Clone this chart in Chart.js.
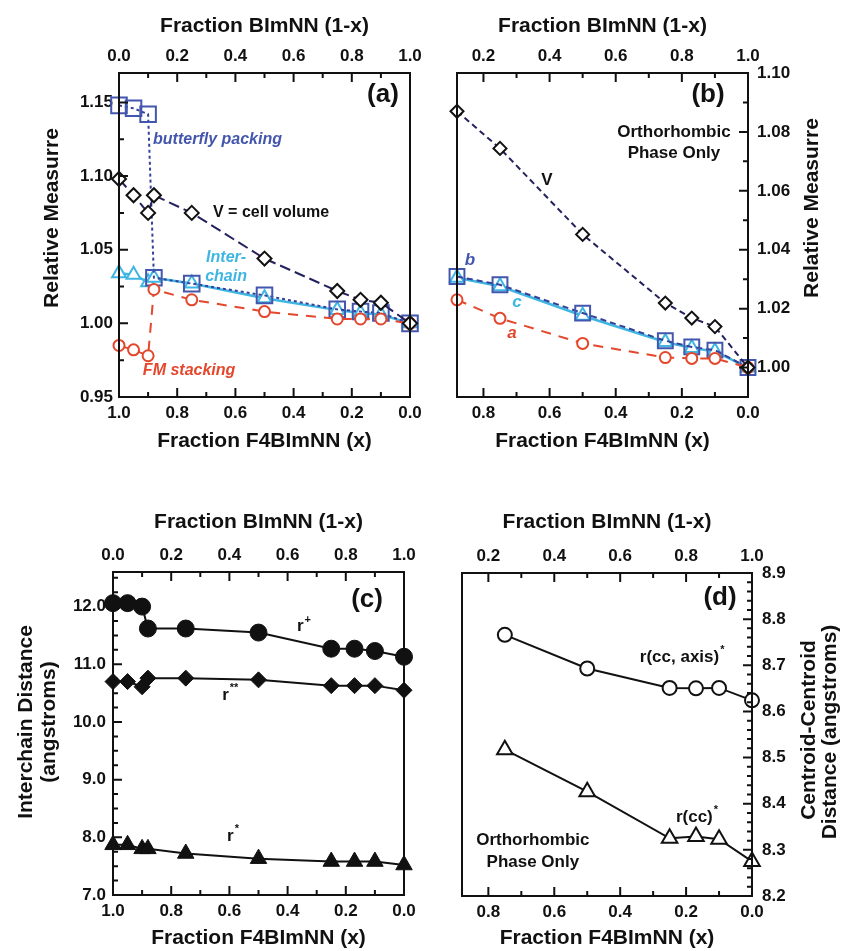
<!DOCTYPE html>
<html>
<head>
<meta charset="utf-8">
<title>BImNN / F4BImNN lattice parameters</title>
<script src="https://cdn.jsdelivr.net/npm/chart.js@4.4.6/dist/chart.umd.min.js"></script>
<style>
  html, body { margin: 0; background: #fff; }
  #fig { position: relative; width: 843px; height: 951px; overflow: hidden; }
  #fig canvas { position: absolute; }
</style>
</head>
<body>
<div id="fig">
  <canvas id="chart-a" width="430" height="460" style="left:0;top:0"></canvas>
  <canvas id="chart-b" width="423" height="460" style="left:420px;top:0"></canvas>
  <canvas id="chart-c" width="430" height="491" style="left:0;top:460px"></canvas>
  <canvas id="chart-d" width="423" height="491" style="left:420px;top:460px"></canvas>
</div>
<script>
// ---- compositions: fraction F4BImNN (x); top axes show 1-x ----
const X_ALL   = [1.0, 0.95, 0.9, 0.88, 0.75, 0.5, 0.25, 0.17, 0.1, 0.0];
const X_ORTHO = [0.88, 0.75, 0.5, 0.25, 0.17, 0.1, 0.0];
const X_CC    = [0.75, 0.5, 0.25, 0.17, 0.1, 0.0];

// (a) relative measures, all phases
const volA        = [1.098, 1.087, 1.075, 1.087, 1.075, 1.044, 1.022, 1.016, 1.014, 1.000];
const butterflyA  = [1.148, 1.146, 1.142, 1.031, 1.027, 1.019, 1.0095, 1.008, 1.007, 1.000];
const interchainA = [1.034, 1.033, 1.028, 1.031, 1.027, 1.017, 1.009, 1.007, 1.006, 1.000];
const fmStackA    = [0.985, 0.982, 0.978, 1.023, 1.016, 1.008, 1.003, 1.003, 1.003, 1.000];

// (b) relative measures, orthorhombic phase only
const volB = [1.087, 1.0744, 1.0452, 1.0219, 1.0168, 1.0139, 1.000];
const bB   = [1.0309, 1.0281, 1.0185, 1.0091, 1.0070, 1.0059, 1.000];
const cB   = [1.0305, 1.0276, 1.0176, 1.0087, 1.0066, 1.0055, 1.000];
const aB   = [1.023, 1.0167, 1.0082, 1.0034, 1.0031, 1.0031, 1.000];

// (c) interchain distances (angstroms)
const rPlus   = [12.06, 12.06, 12.0, 11.62, 11.62, 11.55, 11.27, 11.27, 11.23, 11.13];
const rDouble = [10.70, 10.70, 10.61, 10.76, 10.76, 10.73, 10.63, 10.63, 10.63, 10.55];
const rStar   = [7.87, 7.87, 7.80, 7.80, 7.72, 7.63, 7.58, 7.58, 7.58, 7.52];

// (d) centroid-centroid distances (angstroms)
const rccAxis = [8.766, 8.693, 8.651, 8.650, 8.651, 8.624];
const rcc     = [8.517, 8.426, 8.325, 8.329, 8.323, 8.275];

// tick labels
const TOP_ALL      = [0, 0.2, 0.4, 0.6, 0.8, 1.0];
const BOTTOM_ALL   = [1.0, 0.8, 0.6, 0.4, 0.2, 0.0];
const TOP_ORTHO    = [0.2, 0.4, 0.6, 0.8, 1.0];
const BOTTOM_ORTHO = [0.8, 0.6, 0.4, 0.2, 0.0];
const Y_A = [0.95, 1.00, 1.05, 1.10, 1.15];
const Y_B = [1.00, 1.02, 1.04, 1.06, 1.08, 1.10];
const Y_C = [7, 8, 9, 10, 11, 12];
const Y_D = [8.2, 8.3, 8.4, 8.5, 8.6, 8.7, 8.8, 8.9];

// ---- style ----
const FAMILY = "'Liberation Sans', Arial, Helvetica, sans-serif";
const INK = "#111";
const NAVY = "#23225e";
const BLUE = "#4356ad";
const BLUE_LINE = "#34409a";
const CYAN = "#3fb6e2";
const RED = "#e4472c";
const TICK_FONT = { family: FAMILY, size: 17, weight: "bold" };
const TITLE_FONT = { family: FAMILY, size: 21, weight: "bold" };

Chart.defaults.font.family = FAMILY;

const pts = (xs, ys) => xs.map((x, i) => ({ x, y: ys[i] }));

function series(xs, ys, o) {
  return {
    data: pts(xs, ys),
    showLine: true,
    clip: false,
    borderWidth: 2,
    pointBorderWidth: 2,
    pointBackgroundColor: "#fff",
    ...o,
  };
}

// fixed box sizes so the four frames line up
const fixSize = size => s => {
  if (s.isHorizontal()) s.height = size; else s.width = size;
  s.paddingLeft = s.paddingRight = s.paddingTop = s.paddingBottom = 0;
};

function hAxis({ pos, min, max, reverse, ticks, size, title, titlePad }) {
  return {
    type: "linear", position: pos, min, max, reverse: !!reverse,
    afterBuildTicks: s => { s.ticks = ticks.map(value => ({ value })); },
    afterFit: fixSize(size),
    grid: { display: false, drawTicks: false },
    border: { display: false },
    ticks: { padding: 6, color: INK, font: TICK_FONT, autoSkip: false, maxRotation: 0, callback: v => v.toFixed(1) },
    title: {
      display: true, text: title, color: INK, font: TITLE_FONT,
      padding: pos === "top" ? { top: titlePad, bottom: 0 } : { top: 0, bottom: titlePad },
    },
  };
}

function vAxis({ pos, min, max, ticks, size, digits, pad }) {
  return {
    type: "linear", position: pos, min, max,
    afterBuildTicks: s => { s.ticks = ticks.map(value => ({ value })); },
    afterFit: fixSize(size),
    grid: { display: false, drawTicks: false },
    border: { display: false },
    ticks: { padding: pad, color: INK, font: TICK_FONT, autoSkip: false, callback: v => v.toFixed(digits) },
  };
}

// frame, inward tick marks and text labels
function drawTicks(chart, side) {
  const { ctx, chartArea: a } = chart;
  const sc = chart.scales[side.scale];
  const lo = Math.min(sc.min, sc.max), hi = Math.max(sc.min, sc.max);
  const n0 = Math.ceil(lo / side.minor - 1e-6), n1 = Math.floor(hi / side.minor + 1e-6);
  ctx.beginPath();
  for (let n = n0; n <= n1; n++) {
    const v = n * side.minor;
    const r = v / side.major;
    const len = Math.abs(r - Math.round(r)) < 1e-6 ? 9 : 5;
    const p = sc.getPixelForValue(v);
    if (side.edge === "top") { ctx.moveTo(p, a.top); ctx.lineTo(p, a.top + len); }
    if (side.edge === "bottom") { ctx.moveTo(p, a.bottom); ctx.lineTo(p, a.bottom - len); }
    if (side.edge === "left") { ctx.moveTo(a.left, p); ctx.lineTo(a.left + len, p); }
    if (side.edge === "right") { ctx.moveTo(a.right, p); ctx.lineTo(a.right - len, p); }
  }
  ctx.stroke();
}

function drawNote(chart, n) {
  const { ctx } = chart;
  const px = n.px ?? chart.scales.x.getPixelForValue(n.x);
  const py = n.py ?? chart.scales.y.getPixelForValue(n.y);
  const size = n.size || 17;
  const main = `${n.italic ? "italic " : ""}bold ${size}px ${FAMILY}`;
  const supFont = `bold ${Math.round(size * 0.65)}px ${FAMILY}`;
  ctx.save();
  ctx.translate(px, py);
  if (n.rotate) ctx.rotate(n.rotate * Math.PI / 180);
  ctx.fillStyle = n.color || INK;
  ctx.textBaseline = "middle";
  ctx.textAlign = "left";
  ctx.font = main;
  const w = ctx.measureText(n.text).width;
  let sw = 0;
  if (n.sup) { ctx.font = supFont; sw = ctx.measureText(n.sup).width + 1; }
  const total = w + sw;
  const x0 = n.align === "left" ? 0 : n.align === "right" ? -total : -total / 2;
  ctx.font = main;
  ctx.fillText(n.text, x0, 0);
  if (n.sup) { ctx.font = supFont; ctx.fillText(n.sup, x0 + w + 1, -size * 0.42); }
  ctx.restore();
}

const decor = {
  id: "decor",
  afterDatasetsDraw(chart, _args, opts) {
    const { ctx, chartArea: a } = chart;
    ctx.save();
    ctx.strokeStyle = INK;
    ctx.lineWidth = 2;
    ctx.strokeRect(a.left, a.top, a.right - a.left, a.bottom - a.top);
    for (const s of opts.sides || []) drawTicks(chart, s);
    for (const n of opts.notes || []) drawNote(chart, n);
    ctx.restore();
  },
};

function panel(id, datasets, scales, padding, decorOpts) {
  return new Chart(document.getElementById(id), {
    type: "scatter",
    data: { datasets },
    options: {
      responsive: false,
      animation: false,
      events: [],
      layout: { padding },
      scales,
      plugins: { legend: { display: false }, tooltip: { enabled: false }, decor: decorOpts },
    },
    plugins: [decor],
  });
}

const TOP_TITLE = "Fraction BImNN (1-x)";
const BOTTOM_TITLE = "Fraction F4BImNN (x)";

// ============ (a) ============
panel("chart-a", [
  series(X_ALL, volA, { pointStyle: "rectRot", pointRadius: 7, pointBorderColor: INK, borderColor: NAVY, borderDash: [11, 5] }),
  series(X_ALL, fmStackA, { pointStyle: "circle", pointRadius: 5.5, pointBorderColor: RED, borderColor: RED, borderDash: [10, 8] }),
  series(X_ALL, butterflyA, { pointStyle: "rect", pointRadius: 11, pointBorderColor: BLUE, pointBackgroundColor: "rgba(0,0,0,0)", borderColor: BLUE_LINE, borderDash: [3, 3] }),
  series(X_ALL, interchainA, { pointStyle: "triangle", pointRadius: 8, pointBorderColor: CYAN, borderColor: CYAN, borderWidth: 2.5 }),
], {
  x: hAxis({ pos: "bottom", min: 0, max: 1, reverse: true, ticks: BOTTOM_ALL, size: 63, title: BOTTOM_TITLE, titlePad: 6 }),
  x2: hAxis({ pos: "top", min: 0, max: 1, ticks: TOP_ALL, size: 73, title: TOP_TITLE, titlePad: 14 }),
  y: vAxis({ pos: "left", min: 0.95, max: 1.17, ticks: Y_A, size: 119, digits: 2, pad: 6 }),
}, { right: 20 }, {
  sides: [
    { scale: "x", edge: "bottom", major: 0.2, minor: 0.1 },
    { scale: "x2", edge: "top", major: 0.2, minor: 0.1 },
    { scale: "y", edge: "left", major: 0.05, minor: 0.025 },
  ],
  notes: [
    { text: "(a)", x: 0.093, y: 1.155, size: 26 },
    { text: "butterfly packing", x: 0.883, y: 1.125, size: 16, italic: true, color: BLUE, align: "left" },
    { text: "V = cell volume", x: 0.677, y: 1.075, size: 16, align: "left" },
    { text: "Inter-", x: 0.632, y: 1.0444, size: 16, italic: true, color: CYAN },
    { text: "chain", x: 0.632, y: 1.0315, size: 16, italic: true, color: CYAN },
    { text: "FM stacking", x: 0.918, y: 0.968, size: 16, italic: true, color: RED, align: "left" },
    { text: "Relative Measurre", px: 52, py: 218, size: 21, rotate: -90 },
  ],
});

// ============ (b) ============
panel("chart-b", [
  series(X_ORTHO, volB, { pointStyle: "rectRot", pointRadius: 6.5, pointBorderColor: INK, borderColor: NAVY, borderDash: [6, 4] }),
  series(X_ORTHO, aB, { pointStyle: "circle", pointRadius: 5.5, pointBorderColor: RED, borderColor: RED, borderDash: [10, 8] }),
  series(X_ORTHO, bB, { pointStyle: "rect", pointRadius: 10.5, pointBorderColor: BLUE, pointBackgroundColor: "rgba(0,0,0,0)", borderColor: BLUE_LINE, borderDash: [6, 4] }),
  series(X_ORTHO, cB, { pointStyle: "triangle", pointRadius: 8, pointBorderColor: CYAN, borderColor: CYAN, borderWidth: 2.5 }),
], {
  x: hAxis({ pos: "bottom", min: 0, max: 0.88, reverse: true, ticks: BOTTOM_ORTHO, size: 63, title: BOTTOM_TITLE, titlePad: 6 }),
  x2: hAxis({ pos: "top", min: 0.12, max: 1, ticks: TOP_ORTHO, size: 73, title: TOP_TITLE, titlePad: 14 }),
  y: vAxis({ pos: "right", min: 0.99, max: 1.10, ticks: Y_B, size: 95, digits: 2, pad: 9 }),
}, { left: 37 }, {
  sides: [
    { scale: "x", edge: "bottom", major: 0.2, minor: 0.1 },
    { scale: "x2", edge: "top", major: 0.2, minor: 0.1 },
    { scale: "y", edge: "right", major: 0.02, minor: 0.01 },
  ],
  notes: [
    { text: "(b)", x: 0.121, y: 1.0925, size: 26 },
    { text: "Orthorhombic", x: 0.224, y: 1.080 },
    { text: "Phase Only", x: 0.224, y: 1.0728 },
    { text: "V", x: 0.608, y: 1.0637 },
    { text: "b", x: 0.841, y: 1.0365, italic: true, color: BLUE },
    { text: "c", x: 0.699, y: 1.0223, italic: true, color: CYAN },
    { text: "a", x: 0.714, y: 1.0117, italic: true, color: RED },
    { text: "Relative Measurre", px: 392, py: 208, size: 21, rotate: -90 },
  ],
});

// ============ (c) ============
panel("chart-c", [
  series(X_ALL, rPlus, { pointStyle: "circle", pointRadius: 8.5, pointBorderWidth: 1, pointBorderColor: INK, pointBackgroundColor: INK, borderColor: INK }),
  series(X_ALL, rDouble, { pointStyle: "rectRot", pointRadius: 8, pointBorderWidth: 1, pointBorderColor: INK, pointBackgroundColor: INK, borderColor: INK }),
  series(X_ALL, rStar, { pointStyle: "triangle", pointRadius: 9.5, pointBorderWidth: 1, pointBorderColor: INK, pointBackgroundColor: INK, borderColor: INK }),
], {
  x: hAxis({ pos: "bottom", min: 0, max: 1, reverse: true, ticks: BOTTOM_ALL, size: 56, title: BOTTOM_TITLE, titlePad: 0 }),
  x2: hAxis({ pos: "top", min: 0, max: 1, ticks: TOP_ALL, size: 112, title: TOP_TITLE, titlePad: 50 }),
  y: vAxis({ pos: "left", min: 7.0, max: 12.6, ticks: Y_C, size: 113, digits: 1, pad: 7 }),
}, { right: 26 }, {
  sides: [
    { scale: "x", edge: "bottom", major: 0.2, minor: 0.1 },
    { scale: "x2", edge: "top", major: 0.2, minor: 0.1 },
    { scale: "y", edge: "left", major: 1, minor: 0.25 },
  ],
  notes: [
    { text: "(c)", x: 0.127, y: 12.11, size: 26 },
    { text: "r", sup: "+", x: 0.368, y: 11.65, align: "left" },
    { text: "r", sup: "**", x: 0.625, y: 10.47, align: "left" },
    { text: "r", sup: "*", x: 0.608, y: 8.02, align: "left" },
    { text: "Interchain Distance", px: 26, py: 262, size: 21, rotate: -90 },
    { text: "(angstroms)", px: 49, py: 262, size: 21, rotate: -90 },
  ],
});

// ============ (d) ============
panel("chart-d", [
  series(X_CC, rccAxis, { pointStyle: "circle", pointRadius: 7, pointBorderColor: INK, borderColor: INK }),
  series(X_CC, rcc, { pointStyle: "triangle", pointRadius: 9, pointBorderColor: INK, borderColor: INK }),
], {
  x: hAxis({ pos: "bottom", min: 0, max: 0.88, reverse: true, ticks: BOTTOM_ORTHO, size: 55, title: BOTTOM_TITLE, titlePad: 0 }),
  x2: hAxis({ pos: "top", min: 0.12, max: 1, ticks: TOP_ORTHO, size: 113, title: TOP_TITLE, titlePad: 50 }),
  y: vAxis({ pos: "right", min: 8.2, max: 8.9, ticks: Y_D, size: 91, digits: 1, pad: 10 }),
}, { left: 42 }, {
  sides: [
    { scale: "x", edge: "bottom", major: 0.2, minor: 0.1 },
    { scale: "x2", edge: "top", major: 0.2, minor: 0.1 },
    { scale: "y", edge: "right", major: 0.1, minor: 0.02 },
  ],
  notes: [
    { text: "(d)", x: 0.097, y: 8.846, size: 26 },
    { text: "r(cc, axis)", sup: "*", x: 0.212, y: 8.718 },
    { text: "r(cc)", sup: "*", x: 0.167, y: 8.371 },
    { text: "Orthorhombic", x: 0.665, y: 8.321 },
    { text: "Phase Only", x: 0.665, y: 8.274 },
    { text: "Centroid-Centroid", px: 389, py: 270, size: 21, rotate: -90 },
    { text: "Distance (angstroms)", px: 410, py: 272, size: 21, rotate: -90 },
  ],
});
</script>
</body>
</html>
